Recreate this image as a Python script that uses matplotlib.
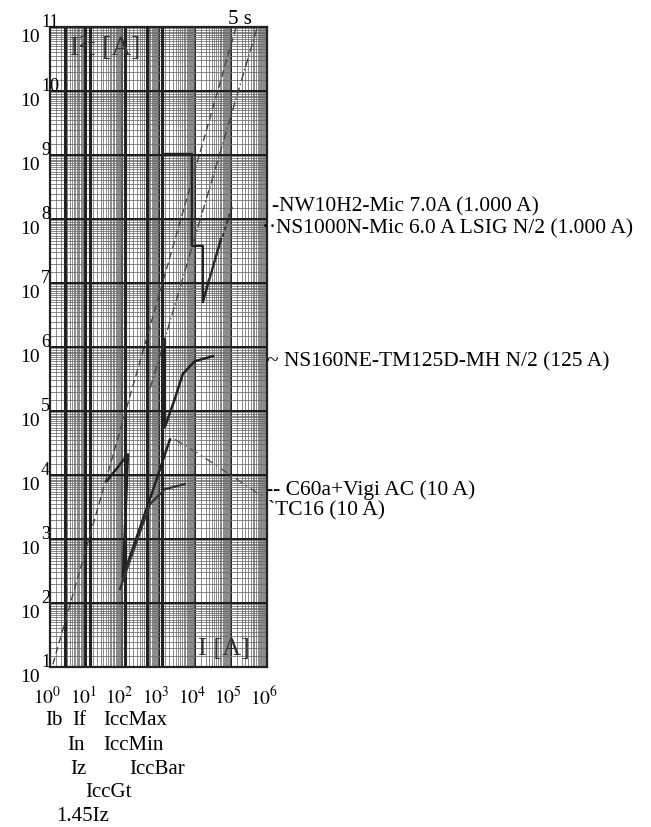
import numpy as np
import matplotlib
matplotlib.use("Agg")
import matplotlib.pyplot as plt
from matplotlib.ticker import LogLocator, NullFormatter
import matplotlib.transforms as mtransforms

plt.rcParams['font.family'] = ['Liberation Serif', 'DejaVu Serif']
plt.rcParams['mathtext.fontset'] = 'stix'

# ---- data (I in A, I2t in A2s) ----
line5s_i = [1.2, 1.4e5]
line5s_e = [11, 1.0e11]

line2_i = [5.2e5, 580]
line2_e = [9.3e10, 2.2e5]

ns1000_i = [1320, 1320, 8350, 8350, 1.69e4, 1.69e4, 5.3e4]
ns1000_e = [5.2e9, 1.04e9, 1.04e9, 3.8e7, 3.8e7, 5.0e6, 4.9e7]

nw10_i = [1.8e4, 1.1e5]
nw10_e = [6.5e6, 1.6e8]

ns160_i = [1500, 1500, 2830, 4700, 1.0e4, 3.2e4]
ns160_e = [1.3e6, 5.6e4, 1.55e5, 3.8e5, 6.0e5, 7.2e5]

c60_i = [37.6, 143, 104, 578, 2070]
c60_e = [8.1e3, 2.1e4, 257, 4.2e3, 3.6e4]

tc16_i = [86, 578, 1500, 5360]
tc16_e = [166, 3.5e3, 6.0e3, 7.2e3]

tail_i = [2830, 1.38e4, 7.2e5]
tail_e = [3.6e4, 2.1e4, 4.7e3]

markers_i = [2.6, 9.5, 13, 120, 470, 1250]

curve_labels = ["-NW10H2-Mic 7.0A (1.000 A)",
                "\u00b7\u00b7NS1000N-Mic 6.0 A LSIG N/2 (1.000 A)",
                "~ NS160NE-TM125D-MH N/2 (125 A)",
                "-- C60a+Vigi AC (10 A)",
                "`TC16 (10 A)"]
curve_label_y = [207, 229, 362, 490, 510]   # pixel rows
curve_label_x = [272, 262, 267, 266, 268]

bottom_names = ["Ib", "If", "IccMax", "In", "IccMin", "Iz", "IccBar", "IccGt", "1.45Iz"]
bottom_i = [1.29, 6.3, 224, 5.2, 209, 5.9, 903, 42.7, 8.15]
bottom_row = [0, 0, 0, 1, 1, 2, 2, 3, 4]

W, H = 651, 828
fig = plt.figure(figsize=(W / 100, H / 100), dpi=100)
ax = fig.add_axes([50 / W, 1 - 668 / H, 217 / W, 640 / H])
ax.set_xscale('log')
ax.set_yscale('log')
ax.set_xlim(1, 1e6)
ax.set_ylim(10, 1e11)

for axis in (ax.xaxis, ax.yaxis):
    axis.set_major_locator(LogLocator(base=10, numticks=100))
    axis.set_minor_locator(LogLocator(base=10, subs=np.arange(1.5, 10, 0.5), numticks=100))
    axis.set_minor_formatter(NullFormatter())
ax.grid(which='major', color='#1a1a1a', lw=1.4)
ax.grid(which='minor', color='#6a6a6a', lw=0.55)
ax.tick_params(which='both', length=0, labelbottom=False, labelleft=False)
for s in ax.spines.values():
    s.set_linewidth(1.6)
    s.set_color('#222')

for m in markers_i:
    ax.axvline(m, color='#222', lw=2.2)

ax.plot(line5s_i, line5s_e, color='#444', lw=1.0, ls=(0, (5, 3)))
ax.plot(line2_i, line2_e, color='#444', lw=1.0, ls=(0, (6, 2, 1, 2)))
ax.plot(ns1000_i, ns1000_e, color='#222', lw=1.6)
ax.plot(nw10_i, nw10_e, color='#333', lw=1.4, ls=(0, (2, 1.5)))
ax.plot(ns160_i, ns160_e, color='#222', lw=1.8)
ax.plot(c60_i, c60_e, color='#222', lw=1.8)
ax.plot(tc16_i, tc16_e, color='#333', lw=1.6)
ax.plot(tail_i, tail_e, color='#555', lw=1.0, ls=(0, (6, 3, 1, 3)))

ax.text(0.09, 0.987, "I\u00b2t [A]", transform=ax.transAxes, fontsize=20,
        ha='left', va='top', color='#333')
ax.text(0.68, 0.012, "I [A]", transform=ax.transAxes, fontsize=19,
        ha='left', va='bottom', color='#333')
ax.text(240 / W, 1 - 20 / H, "5 s", transform=fig.transFigure, fontsize=15,
        ha='center', va='center')

# y tick labels: base below the line, exponent above
for k in range(1, 12):
    ax.annotate("10", xy=(0, 10.0 ** k), xycoords=('axes fraction', 'data'),
                xytext=(-7, -1), textcoords='offset points',
                ha='right', va='top', fontsize=14)
    ax.annotate(str(k), xy=(0, 10.0 ** k), xycoords=('axes fraction', 'data'),
                xytext=(-6.5, 1), textcoords='offset points',
                ha='left', va='baseline', fontsize=13)

# x tick labels
for k in range(0, 7):
    ax.annotate("$10^{%d}$" % k, xy=(10.0 ** k, 0), xycoords=('data', 'axes fraction'),
                xytext=(-2, -13), textcoords='offset points',
                ha='center', va='top', fontsize=14)

# curve names on the right
for txt, yp, xp in zip(curve_labels, curve_label_y, curve_label_x):
    fig.text(xp / W, 1 - yp / H, txt, fontsize=15.5, ha='left', va='center')

# current names under the axis
row_px = [721, 746, 770, 793, 817]
trans = mtransforms.blended_transform_factory(ax.transData, fig.transFigure)
for name, xi, r in zip(bottom_names, bottom_i, bottom_row):
    ax.text(xi, 1 - row_px[r] / H, name, transform=trans, fontsize=15,
            ha='center', va='center', clip_on=False)

fig.savefig("out.png", dpi=100)
